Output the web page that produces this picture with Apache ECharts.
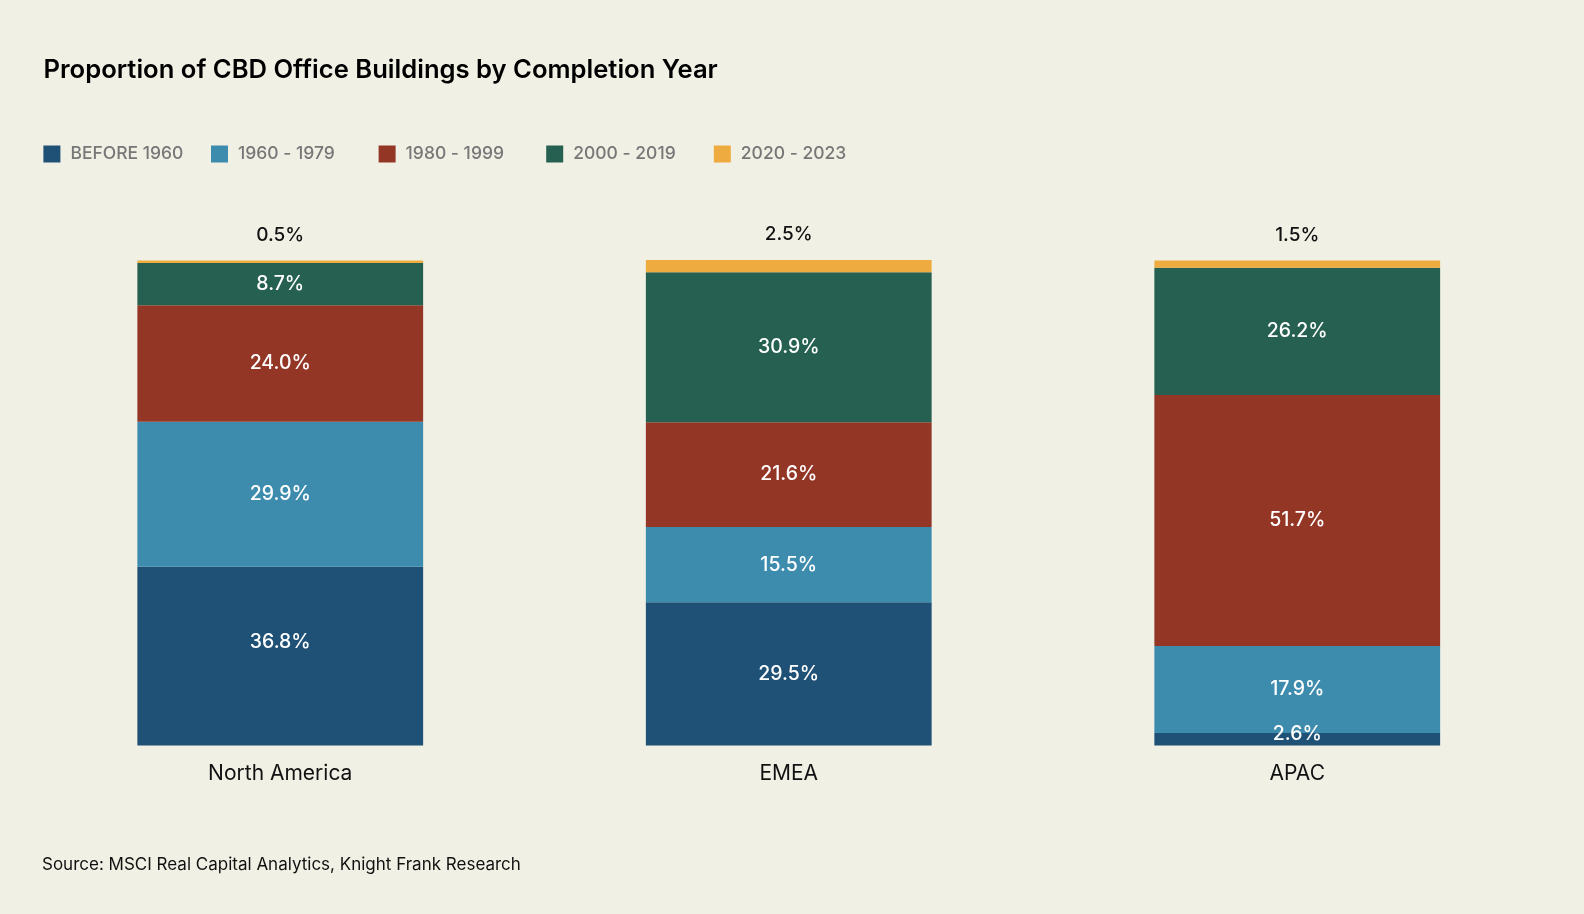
<!DOCTYPE html>
<html><head><meta charset="utf-8">
<script src="https://cdn.jsdelivr.net/npm/echarts@6/dist/echarts.min.js"></script>
<style>html,body{margin:0;padding:0;background:#f1f0e5;}#c{width:1584px;height:914px;}</style>
</head><body><div id="c"></div>
<script>
const categories = ['North America', 'EMEA', 'APAC'];
const seriesNames = ['BEFORE 1960', '1960 - 1979', '1980 - 1999', '2000 - 2019', '2020 - 2023'];
const before1960 = [36.8, 29.5, 2.6];
const y1960_1979 = [29.9, 15.5, 17.9];
const y1980_1999 = [24.0, 21.6, 51.7];
const y2000_2019 = [8.7, 30.9, 26.2];
const y2020_2023 = [0.5, 2.5, 1.5];
const colors = ['#1f5075', '#3d8cae', '#933626', '#256050', '#eeab3f'];
const values = [before1960, y1960_1979, y1980_1999, y2000_2019, y2020_2023];
const font = 'Inter, "Noto Sans", sans-serif';

const chart = echarts.init(document.getElementById('c'));
const fmt = p => p.value.toFixed(1) + '%';
const labelOffsets = { '0-0': [0, -14], '0-2': [0, -5] };
const series = values.map((v, i) => ({
  name: seriesNames[i],
  type: 'bar',
  stack: 'all',
  barWidth: '56.2%',
  data: v.map((d, j) => labelOffsets[i + '-' + j] ? { value: d, label: { offset: labelOffsets[i + '-' + j] } } : d),
  itemStyle: { color: colors[i] },
  label: i === 4 ? {
    show: true, position: 'top', distance: 16, color: '#111', fontSize: 19, fontWeight: 500, fontFamily: font,
    formatter: fmt
  } : {
    show: true, position: 'inside', color: '#fff', fontSize: 19.5, fontWeight: 500, fontFamily: font,
    formatter: fmt
  }
}));
const legendLefts = [38.4, 206, 373.6, 541.2, 708.8];
chart.setOption({
  backgroundColor: '#f1f0e5',
  animation: false,
  title: {
    text: 'Proportion of CBD Office Buildings by Completion Year',
    left: 38.5, top: 52,
    textStyle: { fontFamily: font, fontSize: 25.6, fontWeight: 600, color: '#000' }
  },
  graphic: [{
    type: 'text', left: 42, top: 856,
    style: { text: 'Source: MSCI Real Capital Analytics, Knight Frank Research', fontFamily: font, fontSize: 17, fill: '#111' }
  }],
  legend: seriesNames.map((n, i) => ({
    data: [n], left: legendLefts[i], top: 140, itemWidth: 17, itemHeight: 17, itemGap: 10,
    icon: 'rect', selectedMode: false,
    textStyle: { fontFamily: font, fontSize: 17.5, color: '#777', fontWeight: 500, padding: [0, 0, 0, 5] }
  })),
  grid: { left: 26, right: 32.5, top: 260, bottom: 168.5, containLabel: false },
  xAxis: {
    type: 'category', data: categories,
    axisLine: { show: false }, axisTick: { show: false },
    axisLabel: { fontFamily: font, fontSize: 21, color: '#111', margin: 18 }
  },
  yAxis: { type: 'value', min: 0, max: 100, show: false, splitLine: { show: false } },
  series
});
</script></body></html>
